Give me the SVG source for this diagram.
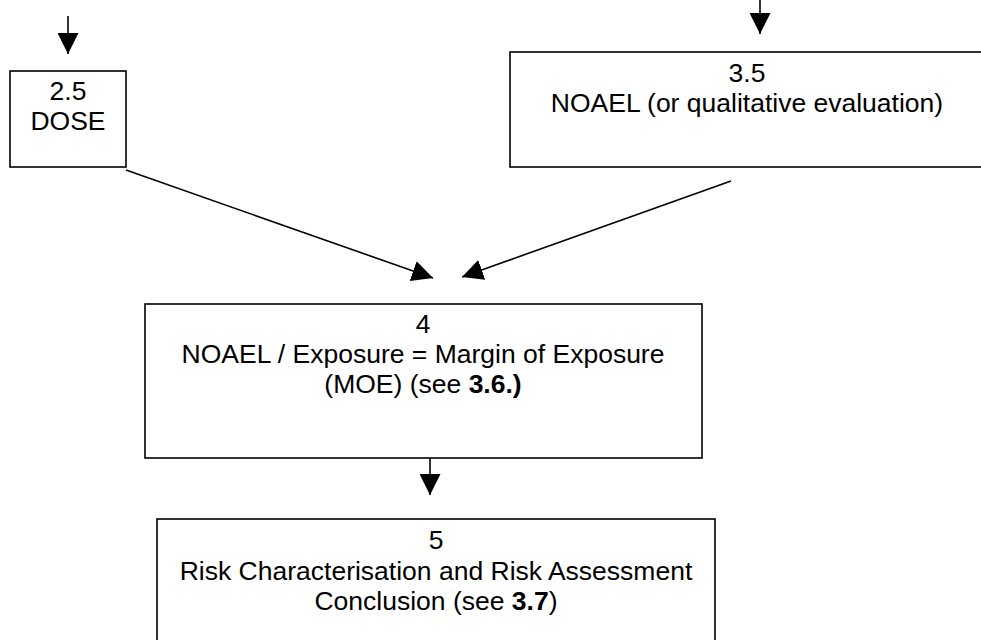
<svg xmlns="http://www.w3.org/2000/svg" width="981" height="640" viewBox="0 0 981 640">
<defs>
<style>
.box{fill:#fff;stroke:#000;stroke-width:1.6}
.t{font-family:"Liberation Sans",Arial,sans-serif;font-size:26.5px;fill:#000;text-anchor:middle}
.b{font-weight:bold}
.c{stroke:#000;stroke-width:1.6;fill:none;marker-end:url(#ah)}
</style>
<marker id="ah" viewBox="0 0 20 20" refX="20" refY="10" markerWidth="21" markerHeight="21" markerUnits="userSpaceOnUse" orient="auto">
<path d="M0,0 L20,10 L0,20 z" fill="#000"/>
</marker>
</defs>
<rect width="981" height="640" fill="#fff"/>
<g id="connectors">
<line class="c" x1="68" y1="16" x2="68" y2="54"/>
<line class="c" x1="760" y1="0" x2="760" y2="34"/>
<line class="c" x1="126" y1="170" x2="433" y2="278"/>
<line class="c" x1="731" y1="181" x2="462" y2="277"/>
<line class="c" x1="430" y1="458" x2="430" y2="495"/>
</g>
<g id="node-dose">
<rect class="box" x="10" y="71" width="116" height="96"/>
<text class="t" x="68" y="100">2.5</text>
<text class="t" x="68" y="130">DOSE</text>
</g>
<g id="node-noael">
<rect class="box" x="510" y="52" width="476" height="115"/>
<text class="t" x="747" y="82">3.5</text>
<text class="t" x="747" y="112">NOAEL (or qualitative evaluation)</text>
</g>
<g id="node-moe">
<rect class="box" x="145" y="304" width="557" height="154"/>
<text class="t" x="423" y="333">4</text>
<text class="t" x="423" y="363">NOAEL / Exposure = Margin of Exposure</text>
<text class="t" x="423" y="393">(MOE) (see <tspan class="b">3.6.)</tspan></text>
</g>
<g id="node-risk">
<rect class="box" x="157" y="519" width="558" height="140"/>
<text class="t" x="436" y="549">5</text>
<text class="t" x="436" y="580">Risk Characterisation and Risk Assessment</text>
<text class="t" x="436" y="610">Conclusion (see <tspan class="b">3.7</tspan>)</text>
</g>
</svg>
